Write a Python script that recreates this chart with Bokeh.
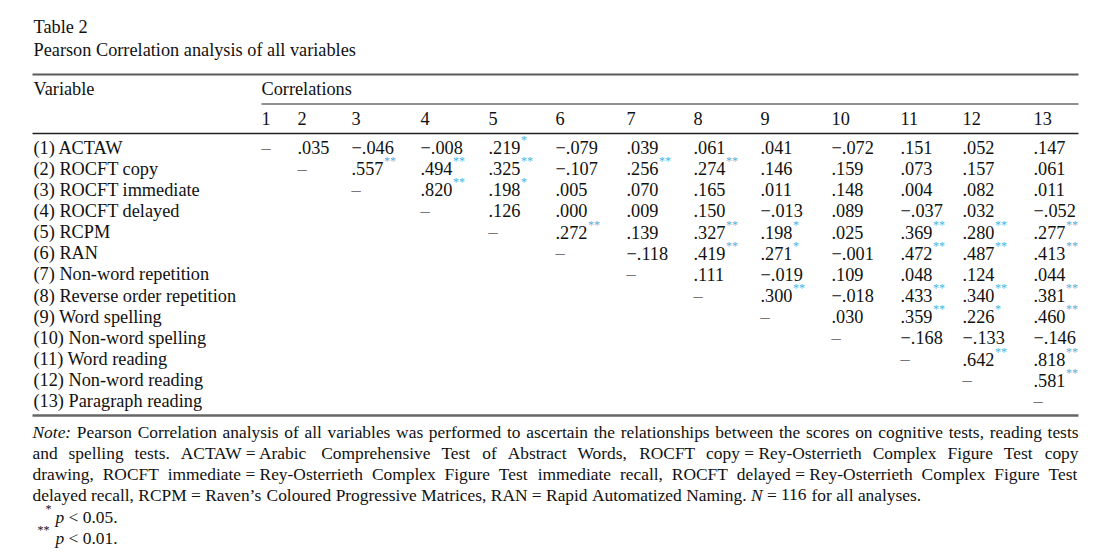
from bokeh.plotting import figure
from bokeh.models import Range1d
from bokeh.core.properties import value
from bokeh.embed import file_html
from bokeh.resources import INLINE

# ---------------- data ----------------
table_label = "Table 2"
table_title = "Pearson Correlation analysis of all variables"
header_left = "Variable"
header_group = "Correlations"
col_labels = ["1", "2", "3", "4", "5", "6", "7", "8", "9", "10", "11", "12", "13"]
variables = [
    "(1) ACTAW", "(2) ROCFT copy", "(3) ROCFT immediate", "(4) ROCFT delayed",
    "(5) RCPM", "(6) RAN", "(7) Non-word repetition", "(8) Reverse order repetition",
    "(9) Word spelling", "(10) Non-word spelling", "(11) Word reading",
    "(12) Non-word reading", "(13) Paragraph reading",
]
# upper triangle: row i holds correlations with variables i+1 .. 13
corr_rows = [
    [0.035, -0.046, -0.008, 0.219, -0.079, 0.039, 0.061, 0.041, -0.072, 0.151, 0.052, 0.147],
    [0.557, 0.494, 0.325, -0.107, 0.256, 0.274, 0.146, 0.159, 0.073, 0.157, 0.061],
    [0.820, 0.198, 0.005, 0.070, 0.165, 0.011, 0.148, 0.004, 0.082, 0.011],
    [0.126, 0.000, 0.009, 0.150, -0.013, 0.089, -0.037, 0.032, -0.052],
    [0.272, 0.139, 0.327, 0.198, 0.025, 0.369, 0.280, 0.277],
    [-0.118, 0.419, 0.271, -0.001, 0.472, 0.487, 0.413],
    [0.111, -0.019, 0.109, 0.048, 0.124, 0.044],
    [0.300, -0.018, 0.433, 0.340, 0.381],
    [0.030, 0.359, 0.226, 0.460],
    [-0.168, -0.133, -0.146],
    [0.642, 0.818],
    [0.581],
    [],
]
# significance: 0 none, 1 = p<0.05 (*), 2 = p<0.01 (**)
sig_rows = [
    [0, 0, 0, 1, 0, 0, 0, 0, 0, 0, 0, 0],
    [2, 2, 2, 0, 2, 2, 0, 0, 0, 0, 0],
    [2, 1, 0, 0, 0, 0, 0, 0, 0, 0],
    [0, 0, 0, 0, 0, 0, 0, 0, 0],
    [2, 0, 2, 1, 0, 2, 2, 2],
    [0, 2, 1, 0, 2, 2, 2],
    [0, 0, 0, 0, 0, 0],
    [2, 0, 2, 2, 2],
    [0, 2, 1, 2],
    [0, 0, 0],
    [2, 2],
    [2],
    [],
]
note_lines = [
    "Note: Pearson Correlation analysis of all variables was performed to ascertain the relationships between the scores on cognitive tests, reading tests",
    "and spelling tests. ACTAW = Arabic Comprehensive Test of Abstract Words, ROCFT copy = Rey-Osterrieth Complex Figure Test copy",
    "drawing, ROCFT immediate = Rey-Osterrieth Complex Figure Test immediate recall, ROCFT delayed = Rey-Osterrieth Complex Figure Test",
    "delayed recall, RCPM = Raven\u2019s Coloured Progressive Matrices, RAN = Rapid Automatized Naming. N = 116 for all analyses.",
]
italic_words = {"Note:", "N"}
footnote_marks = ["*", "**"]
footnote_var = ["p", "p"]
footnote_rest = ["< 0.05.", "< 0.01."]

# ---------------- layout / style ----------------
FONT = value("Liberation Serif")
FS = 18.3      # table text
NFS = 17.4     # note text
W, H = 1104, 550
LEFT, RIGHT = 32, 1078
TX = 33
col_x = [261, 297, 351, 420, 488, 555, 626, 693, 760, 831, 900, 962, 1033]
row_y0, row_dy = 147, 21.15
STAR_COLOR = "#4fb0e0"
INK = "#111111"

ROMAN = {" ": 250, "!": 333, "(": 333, ")": 333, "*": 500, ",": 250, "-": 333, ".": 250,
         ":": 278, "<": 564, "=": 564, "\u2019": 333, "\u2013": 500, "\u2212": 564,
         "A": 722, "B": 667, "C": 667, "D": 722, "E": 611, "F": 556, "G": 722, "H": 722,
         "I": 333, "J": 389, "K": 722, "L": 611, "M": 889, "N": 722, "O": 722, "P": 556,
         "Q": 722, "R": 667, "S": 556, "T": 611, "U": 722, "V": 722, "W": 944, "X": 722,
         "Y": 722, "Z": 611,
         "a": 444, "b": 500, "c": 444, "d": 500, "e": 444, "f": 333, "g": 500, "h": 500,
         "i": 278, "j": 278, "k": 500, "l": 278, "m": 778, "n": 500, "o": 500, "p": 500,
         "q": 500, "r": 333, "s": 389, "t": 278, "u": 500, "v": 500, "w": 722, "x": 500,
         "y": 500, "z": 444}
ITALIC = {"N": 667, "o": 500, "t": 278, "e": 444, ":": 333, "p": 500}


def tw(s, italic=False, fs=FS):
    tab = ITALIC if italic else ROMAN
    return sum(tab.get(ch, ROMAN.get(ch, 500)) for ch in s) / 1000.0 * fs


def fmt(v):
    s = f"{abs(v):.3f}"[1:]
    return ("\u2212" + s) if v < 0 else s


p = figure(width=W, height=H, x_range=Range1d(0, W), y_range=Range1d(H, 0),
           output_backend="svg", toolbar_location=None, min_border=0,
           x_axis_location=None, y_axis_location=None,
           outline_line_color=None, background_fill_color="white",
           border_fill_color="white")
p.grid.visible = False

common = dict(text_font=FONT, text_font_size=f"{FS}px", text_baseline="alphabetic",
              text_align="left", text_color=INK)
ncommon = {**common, "text_font_size": f"{NFS}px"}

# title
p.text(x=[TX, TX], y=[26, 49], text=[table_label, table_title], **common)

# rules
p.segment(x0=[LEFT], y0=[74], x1=[RIGHT], y1=[74], line_width=2, line_color="#5a5a5a")
p.segment(x0=[col_x[0]], y0=[103.5], x1=[RIGHT], y1=[103.5], line_width=1, line_color="#222")
p.segment(x0=[LEFT], y0=[133], x1=[RIGHT], y1=[133], line_width=1.5, line_color="#222")
p.segment(x0=[LEFT], y0=[415], x1=[RIGHT], y1=[415], line_width=2.5, line_color="#666")

# header
p.text(x=[TX, col_x[0]], y=[88, 88], text=[header_left, header_group], **common)
p.text(x=col_x, y=[118] * len(col_labels), text=col_labels, **common)

# rows
row_y = [row_y0 + i * row_dy for i in range(len(variables))]
p.text(x=[TX] * len(variables), y=row_y, text=variables, **common)

dash_x, dash_y = [], []
vx, vy, vt = [], [], []
sx, sy, st = [], [], []
for i, (vals, sigs) in enumerate(zip(corr_rows, sig_rows)):
    dash_x.append(col_x[i])
    dash_y.append(row_y[i])
    for j, (v, s) in enumerate(zip(vals, sigs)):
        c = i + 1 + j
        t = fmt(v)
        vx.append(col_x[c]); vy.append(row_y[i]); vt.append(t)
        if s:
            sx.append(col_x[c] + tw(t) + 0.5)
            sy.append(row_y[i] - 7.5)
            st.append("*" * s)

p.text(x=dash_x, y=dash_y, text=["\u2013"] * len(dash_x), **{**common, "text_color": "#777"})
p.text(x=vx, y=vy, text=vt, **common)
p.text(x=sx, y=sy, text=st, text_font=FONT, text_font_size="12px", text_baseline="alphabetic",
       text_align="left", text_color=STAR_COLOR)

# note (justified)
note_y0, note_dy = 431, 21.15
rx, ry, rt = [], [], []
ix, iy, it = [], [], []
for k, line in enumerate(note_lines):
    raw = line.split(" ")
    words = []
    for w in raw:
        if words and (w == "=" or words[-1].endswith(" =")) and k < 3:
            words[-1] = words[-1] + " " + w
        else:
            words.append(w)
    widths = [tw(w, w in italic_words, NFS) for w in words]
    y = note_y0 + k * note_dy
    if k < 3:
        gap = (RIGHT - LEFT - sum(widths)) / (len(words) - 1)
    else:
        gap = tw(" ", False, NFS)
    x = LEFT
    for w, wd in zip(words, widths):
        if w in italic_words:
            ix.append(x); iy.append(y); it.append(w)
        else:
            rx.append(x); ry.append(y); rt.append(w)
        x += wd + gap

p.text(x=rx, y=ry, text=rt, **ncommon)
p.text(x=ix, y=iy, text=it, **{**ncommon, "text_font_style": "italic"})

# footnotes
fy = [516, 537]
px0 = 55
p.text(x=[45, 37], y=[v - 8 for v in fy], text=footnote_marks, text_font=FONT,
       text_font_size="12px", text_baseline="alphabetic", text_align="left", text_color=INK)
p.text(x=[px0, px0], y=fy, text=footnote_var, **{**ncommon, "text_font_style": "italic"})
rest_x = px0 + tw("p", True, NFS) + tw(" ", False, NFS)
p.text(x=[rest_x, rest_x], y=fy, text=footnote_rest, **ncommon)

open("out.html", "w").write(file_html(p, INLINE))
